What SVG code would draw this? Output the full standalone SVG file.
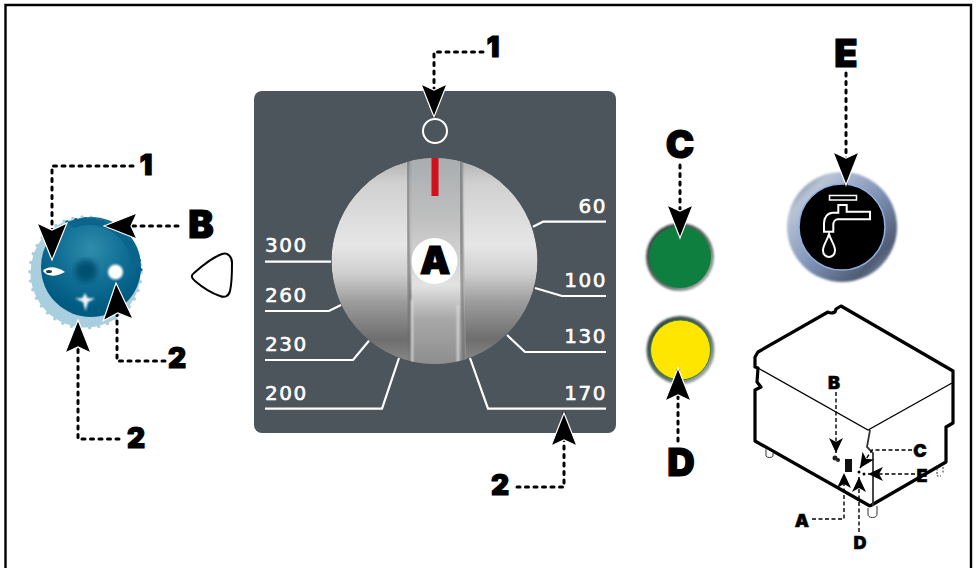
<svg xmlns="http://www.w3.org/2000/svg" width="976" height="568" viewBox="0 0 976 568">
<style>
.c{fill:none;stroke:#000;stroke-width:3;stroke-dasharray:3 5.500;stroke-linecap:round;stroke-linejoin:round;marker-end:url(#big)}
.h{marker-end:url(#huge)}
.s{fill:none;stroke:#000;stroke-width:1.400;stroke-dasharray:4 2.500;marker-end:url(#small)}
.b{font-family:"Inter","Liberation Sans",sans-serif;font-weight:900;fill:#000;stroke:#000;stroke-width:1.200;text-anchor:middle}
.L{font-size:38px}.M{font-size:28px}.T{font-size:18px;stroke-width:.5}
.n{font-family:"DejaVu Sans",sans-serif;font-size:20px;fill:#fff;stroke:#fff;stroke-width:.6;letter-spacing:1.500px}
.l{fill:none;stroke:#fff;stroke-width:2.200;stroke-linejoin:miter}
.o{fill:none;stroke:#000;stroke-width:3.200;stroke-linejoin:round}
.t{fill:none;stroke:#000;stroke-width:1.300}
.f{fill:#fff;stroke:#333;stroke-width:1}
</style>
<defs>
<marker id="big" markerUnits="userSpaceOnUse" viewBox="-40 -18 44 36" markerWidth="44" markerHeight="36" refX="0" refY="0" orient="auto"><path d="M0 0L-33-13-27 0-33 13Z" fill="#000" stroke="#fff" stroke-width="1.200"/></marker>
<marker id="huge" markerUnits="userSpaceOnUse" viewBox="-44 -20 48 40" markerWidth="48" markerHeight="40" refX="0" refY="0" orient="auto"><path d="M0 0L-37-15-30 0-37 15Z" fill="#000" stroke="#fff" stroke-width="1.200"/></marker>
<marker id="small" markerUnits="userSpaceOnUse" viewBox="-18 -9 20 18" markerWidth="20" markerHeight="18" refX="0" refY="0" orient="auto"><path d="M0 0L-15-7-11 0-15 7Z" fill="#000"/></marker>
<linearGradient id="kn" x1="0" y1="0" x2="0" y2="1"><stop offset="0" stop-color="#b0b0b0"/><stop offset=".12" stop-color="#d0d0d0"/><stop offset=".42" stop-color="#e6e6e6"/><stop offset=".56" stop-color="#cfcfcf"/><stop offset=".7" stop-color="#9c9c9c"/><stop offset=".88" stop-color="#6e6e6e"/><stop offset="1" stop-color="#8a8a8a"/></linearGradient>
<linearGradient id="kb" x1="0" y1="0" x2="0" y2="1"><stop offset="0" stop-color="#a9adb0"/><stop offset=".3" stop-color="#c0c0c0"/><stop offset=".62" stop-color="#e2e2e2"/><stop offset=".78" stop-color="#a8a8a8"/><stop offset="1" stop-color="#8e8e8e"/></linearGradient>
<linearGradient id="ring" x1="0" y1="0" x2="1" y2="1"><stop offset="0" stop-color="#46566f"/><stop offset=".2" stop-color="#b9c4d6"/><stop offset=".5" stop-color="#8397bb"/><stop offset=".8" stop-color="#4f5c74"/><stop offset="1" stop-color="#aab6cc"/></linearGradient>
<linearGradient id="rg" x1="0" y1="0" x2="1" y2="1"><stop offset="0" stop-color="#2c3a36"/><stop offset=".6" stop-color="#5f6f68"/><stop offset="1" stop-color="#c0c4c4"/></linearGradient>
<radialGradient id="dial" cx=".5" cy=".32" r=".6"><stop offset="0" stop-color="#2f8cab"/><stop offset=".55" stop-color="#116f96"/><stop offset="1" stop-color="#005b82"/></radialGradient>
<clipPath id="kc"><circle cx="434.500" cy="261" r="103"/></clipPath>
<filter id="b1"><feGaussianBlur stdDeviation="1"/></filter>
<filter id="b3"><feGaussianBlur stdDeviation="3"/></filter>
</defs>
<rect width="976" height="568" fill="#fff"/>
<path id="frame" d="M5.500 568V5H971V568" fill="none" stroke="#000" stroke-width="2.400"/>

<g id="dial-b">
<circle cx="85.500" cy="272.500" r="55" fill="#a9cfdf"/>
<circle cx="85.500" cy="272.500" r="55.500" fill="none" stroke="#a9cfdf" stroke-width="3.500" stroke-linecap="round" stroke-dasharray="0 9.200"/>
<circle cx="91" cy="267" r="50" fill="url(#dial)"/>
<path d="M67 222A55.500 55.500 0 0 1 141 272" fill="none" stroke="#0a648c" stroke-width="3.500" stroke-linecap="round" stroke-dasharray="0 9.200"/>
<path d="M67 222A55 55 0 0 1 140 268L131 262A42 42 0 0 0 74 228Z" fill="#0a648c"/>
<circle cx="86" cy="271" r="11" fill="#04506f" filter="url(#b3)"/>
<circle cx="115.500" cy="272" r="7.500" fill="#fff" filter="url(#b1)"/>
<path d="M43 271C47 266 56 266 65 272C56 277 47 277 43 271Z" fill="#fff"/>
<ellipse cx="49" cy="271.500" rx="3" ry="1.500" fill="#234"/>
<path d="M85 293L87.500 298 95 298.500 88 302 85.500 311 83 302 75 298.500 82.500 298Z" fill="#fff" filter="url(#b1)" opacity=".95"/>
</g>
<path id="pointer" d="M194 273C203 265 213 257 222 254C228 252 232 257 232 263C232 273 232 283 230 291C229 296 225 298 220 296C211 293 202 287 195 281C191 278 191 275 194 273Z" fill="#fff" stroke="#000" stroke-width="2"/>

<g id="panel-a">
<rect x="254" y="91" width="362" height="342" rx="8" fill="#4d555c"/>
<circle cx="435" cy="131" r="12" fill="none" stroke="#fff" stroke-width="2"/>
<g clip-path="url(#kc)">
<circle cx="434.500" cy="261" r="103" fill="url(#kn)"/>
<path d="M410 158H462L466 364H412Z" fill="url(#kb)"/>
<path d="M408 158Q408 260 411 364" fill="none" stroke="#666" stroke-width="3" filter="url(#b1)" opacity=".75"/>
<path d="M461 158Q461 260 464 364" fill="none" stroke="#666" stroke-width="3" filter="url(#b1)" opacity=".75"/>
<path d="M412 300V364M458 305V364" fill="none" stroke="#ddd" stroke-width="2" filter="url(#b1)"/>
</g>
<rect x="431.500" y="158" width="7" height="38" fill="#d2101a"/>
<circle cx="434.500" cy="261" r="23" fill="#fff"/>
<path class="l" d="M606 221.700H543L533 226.700"/>
<path class="l" d="M606 296H562L535 288"/>
<path class="l" d="M606 352H525L507 335"/>
<path class="l" d="M606 408.700H488L470 358"/>
<path class="l" d="M265 261.700H331"/>
<path class="l" d="M265 311H329L341 305"/>
<path class="l" d="M265 360H353L369 340.700"/>
<path class="l" d="M265 408.700H382L399 358"/>
<text class="n" x="265" y="252">300</text>
<text class="n" x="265" y="301.500">260</text>
<text class="n" x="265" y="350.500">230</text>
<text class="n" x="265" y="400">200</text>
<text class="n" x="607" y="213" text-anchor="end">60</text>
<text class="n" x="607" y="286.500" text-anchor="end">100</text>
<text class="n" x="607" y="343" text-anchor="end">130</text>
<text class="n" x="607" y="400" text-anchor="end">170</text>
<text class="b L" x="435" y="274">A</text>
</g>

<g id="lamp-c">
<circle cx="680" cy="257" r="34" fill="url(#rg)" filter="url(#b1)"/>
<circle cx="680" cy="257" r="31" fill="#0f7f3f"/>
</g>
<g id="lamp-d">
<circle cx="680.500" cy="350" r="34" fill="url(#rg)" filter="url(#b1)"/>
<circle cx="680.500" cy="350" r="30" fill="#ffe600" stroke="#2f7d4a" stroke-width="1"/>
</g>
<g id="button-e">
<circle cx="842" cy="227" r="55" fill="url(#ring)" filter="url(#b1)"/>
<circle cx="842" cy="227" r="43" fill="#000" stroke="#8fb0e0" stroke-width="1.500"/>
<rect x="829.500" y="195.500" width="27" height="4.500" fill="none" stroke="#fff" stroke-width="1.500"/>
<path d="M838.300 205H846.700V211.700H870V219.300H838C835 219.300 833.300 222 833.300 225V231.700H824V223.300C824 217 828 212.700 833 212.700H838.300Z" fill="none" stroke="#fff" stroke-width="2"/>
<path d="M829 234C827 241 823 245 823 250.500C823 254.500 826 257 829 257C832 257 835 254.500 835 250.500C835 245 831 241 829 234Z" fill="none" stroke="#fff" stroke-width="2"/>
</g>

<g id="machine">
<path class="o" d="M758 352L828 312C831 314 833 313 835 312L836 309 841 306 953 371V423L946 427V462L870 506 755 441V390L761 387 757 382 758 368 755 367V357Z"/>
<path class="t" d="M758 368L868 430 952 383"/>
<path d="M870 430L867 447 873 453V506" fill="none" stroke="#333" stroke-width="1.800"/>
<path class="f" d="M766 449V456A4 3 0 0 0 773 456V453"/>
<path class="f" d="M868 508V514A4.500 3.500 0 0 0 877 514V506"/>
<path d="M937 465V476H941M943 467V474" fill="none" stroke="#333" stroke-width="1" stroke-dasharray="2 1.500"/>
<circle cx="835" cy="458" r="2.500" fill="#222"/><circle cx="838" cy="460" r="2" fill="#222"/>
<rect x="845" y="459" width="7" height="13" fill="#111"/>
<circle cx="859" cy="472" r="1.500" fill="#000"/><circle cx="864" cy="474" r="1.500" fill="#000"/>
</g>

<g id="connectors">
<path class="c h" d="M133 166H52V226L52 260"/>
<path class="c" d="M178 226H104"/>
<path class="c h" d="M165 361H117V300L116 283"/>
<path class="c" d="M119 439H78V320"/>
<path class="c" d="M483 52H434V117"/>
<path class="c" d="M517 487H564V413"/>
<path class="c" d="M680 165V238"/>
<path class="c" d="M678 441V368"/>
<path class="c" d="M846 73V185"/>
<path class="s" d="M836 392V453"/>
<path class="s" d="M912 450H872L860 468"/>
<path class="s" d="M915 474H868"/>
<path class="s" d="M812 519H844V473"/>
<path class="s" d="M859 532V477"/>
</g>

<g id="labels">
<text class="b M" x="146" y="175">1</text>
<text class="b L" x="201" y="238">B</text>
<text class="b M" x="177" y="368">2</text>
<text class="b M" x="136" y="448">2</text>
<text class="b M" x="493" y="57">1</text>
<text class="b M" x="500" y="495">2</text>
<text class="b L" x="680" y="158">C</text>
<text class="b L" x="846" y="67">E</text>
<text class="b L" x="681" y="476">D</text>
<text class="b T" x="834" y="389">B</text>
<text class="b T" x="920" y="457">C</text>
<text class="b T" x="922" y="482">E</text>
<text class="b T" x="802" y="527">A</text>
<text class="b T" x="860" y="549">D</text>
</g>
</svg>
